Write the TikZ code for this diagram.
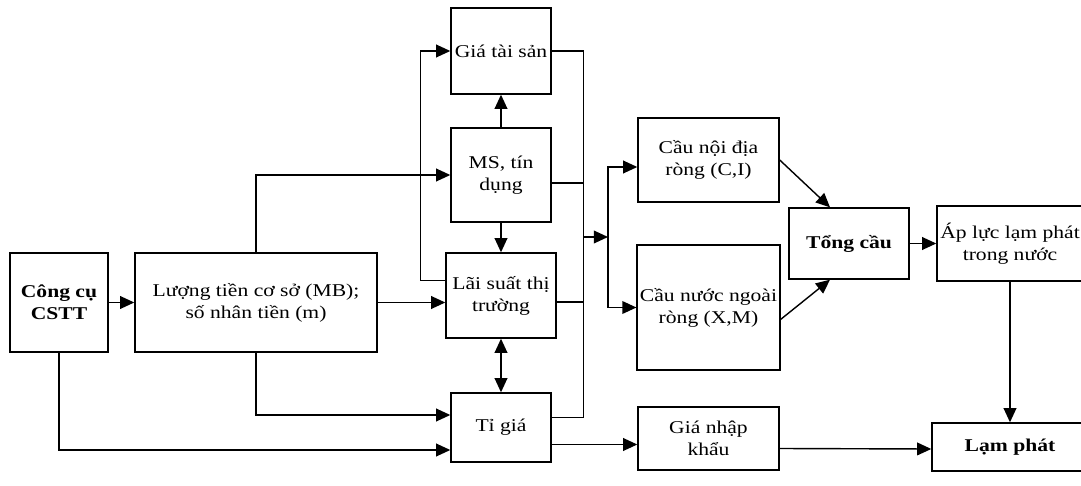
\documentclass[tikz,border=0pt]{standalone}
\usepackage{fontspec}
\setmainfont{Liberation Serif}[FakeStretch=1.2]
\usetikzlibrary{arrows.meta,positioning,calc}

\begin{document}
\begin{tikzpicture}[
  x=0.025cm, y=-0.025cm,
  blk/.style={draw=black, line width=1pt, rectangle, align=center,
    inner sep=2pt, font=\fontsize{12.8}{15.6}\selectfont},
  bblk/.style={blk, font=\fontsize{12.8}{15.6}\selectfont\bfseries},
  ar/.style={-{Triangle[length=10pt,width=9pt]}, line width=1pt},
  dar/.style={{Triangle[length=10pt,width=9pt]}-{Triangle[length=10pt,width=9pt]}, line width=1pt},
  ln/.style={line width=1pt},
]
\useasboundingbox (0,0) rectangle (1081,486);

%── Cong cu va tien co so ─────────────────────────────────────────────────────

\node[bblk, minimum width=2.45cm, minimum height=2.475cm] (cstt) at (59,302.5)  {Công cụ\\CSTT};
\node[blk, minimum width=6.05cm, minimum height=2.475cm]  (mb)   at (256,302.5) {Lượng tiền cơ sở (MB);\\số nhân tiền (m)};

%── Kenh trung gian ───────────────────────────────────────────────────────────

\node[blk, minimum width=2.5cm,  minimum height=2.15cm]  (gts) at (501,51)    {Giá tài sản};
\node[blk, minimum width=2.5cm,  minimum height=2.35cm]  (ms)  at (501,175)   {MS, tín\\dụng};
\node[blk, minimum width=2.75cm, minimum height=2.125cm] (ls)  at (501,295.5) {Lãi suất thị\\trường};
\node[blk, minimum width=2.5cm,  minimum height=1.725cm] (tg)  at (501,427.5) {Tỉ giá};

%── Cau va lam phat ───────────────────────────────────────────────────────────

\node[blk, minimum width=3.525cm, minimum height=2.1cm]   (cnd) at (708.5,160)   {Cầu nội địa\\ròng (C,I)};
\node[blk, minimum width=3.525cm, minimum height=3.125cm] (cnn) at (708.5,307.5) {Cầu nước ngoài\\ròng (X,M)};
\node[blk, minimum width=3.525cm, minimum height=1.575cm] (gnk) at (708.5,438.5) {Giá nhập\\khẩu};
\node[bblk, minimum width=3cm,    minimum height=1.775cm] (tc)  at (849,243.5)   {Tổng cầu};
\node[blk, minimum width=3.65cm,  minimum height=1.875cm] (al)  at (1010,243.5)  {Áp lực lạm phát\\trong nước};
\node[bblk, minimum width=3.9cm,  minimum height=1.2cm]   (lp)  at (1010,447)    {Lạm phát};

\coordinate (bus)   at (583,237);
\coordinate (split) at (608,237);

% cong cu -> tien co so -> cac kenh
\draw[ar] (cstt) -- (mb);
\draw[ar] (mb.east) -- (ls.west |- mb.east);
\draw[ar] (mb.north) |- (ms.west);
\draw[ar] (mb.south) |- ($(tg.west)+(0,-12.5)$);
\draw[ar] (cstt.south) |- ($(tg.west)+(0,22.5)$);
\draw[ar] ($(ls.west)+(0,-15)$) -- ++(-25,0) |- (gts.west);

% quan he giua cac kenh
\draw[ar] (ms) -- (gts);
\draw[ar] (ms) -- (ls);
\draw[dar] (ls) -- (tg);

% gom ve cau
\draw[ln] (gts.east) -- ++(32,0) |- ($(tg.east)+(0,-10)$);
\draw[ln] ($(ms.east)+(0,8)$) -- ++(32,0);
\draw[ln] ($(ls.east)+(0,6.5)$) -- ++(27,0);
\draw[ar] (bus) -- (split);
\draw[ar] (split) |- ($(cnd.west)+(0,7)$);
\draw[ar] (split) |- (cnn.west);

% tong cau -> lam phat
\draw[ar] (cnd.east) -- ($(tc.north)+(-19,0)$);
\draw[ar] ($(cnn.east)+(0,12)$) -- ($(tc.south)+(-19,0)$);
\draw[ar] (tc) -- (al);
\draw[ar] (al) -- (lp);
\draw[ar] ($(tg.east)+(0,17)$) -- ($(gnk.west)+(0,6)$);
\draw[ar] ($(gnk.east)+(0,10)$) -- ($(lp.west)+(0,2)$);

\end{tikzpicture}
\end{document}
